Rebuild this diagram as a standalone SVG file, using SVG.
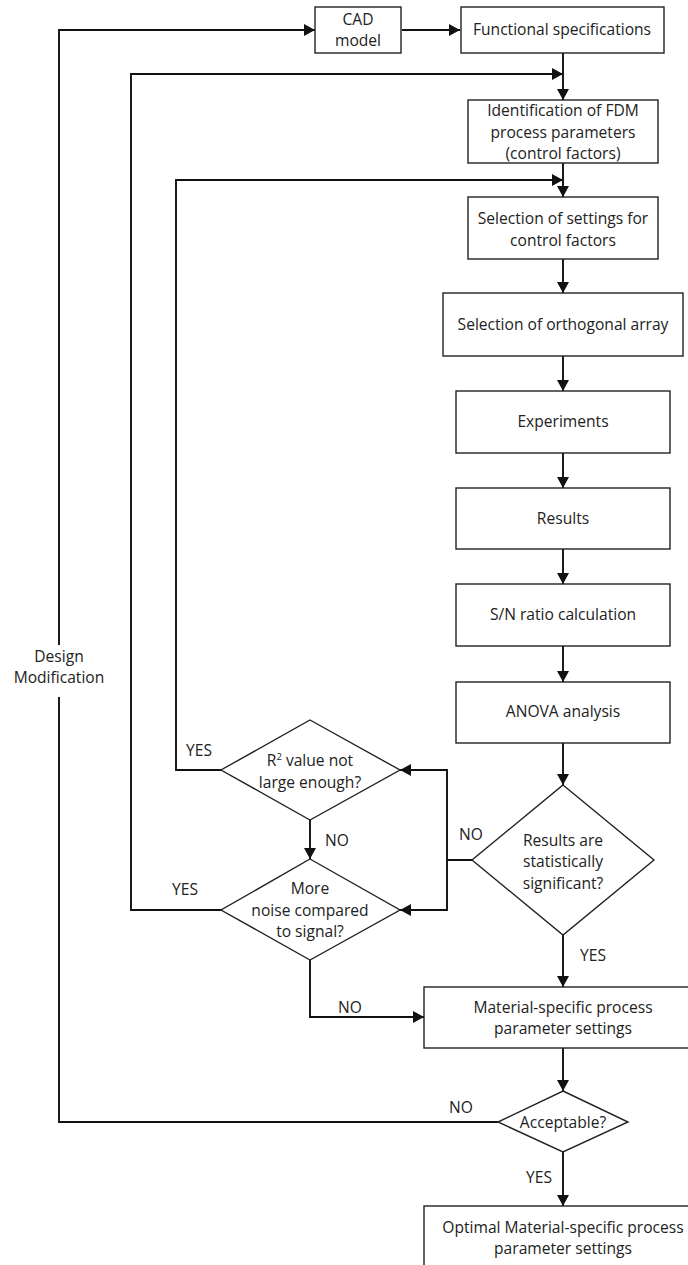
<svg xmlns="http://www.w3.org/2000/svg" width="688" height="1265" viewBox="0 0 688 1265">
<style>
text{font-family:"Open Sans",Lato,"Liberation Sans",sans-serif;font-size:15.6px;fill:#222;text-anchor:middle}
.box{fill:#fff;stroke:#222;stroke-width:1.4}
.c{fill:none;stroke:#111;stroke-width:1.9}
</style>
<defs>
<marker id="a" markerUnits="userSpaceOnUse" markerWidth="12" markerHeight="12" refX="11" refY="6" orient="auto">
<path d="M0,0 L11,6 L0,12 z" fill="#111"/>
</marker>
</defs>
<rect width="688" height="1265" fill="#fff"/>
<g id="connectors">
<path class="c" d="M402,30 H460" marker-end="url(#a)"/>
<path class="c" d="M563,53 V100" marker-end="url(#a)"/>
<path class="c" d="M221,910 H131 V74 H563" marker-end="url(#a)"/>
<path class="c" d="M563,163 V197" marker-end="url(#a)"/>
<path class="c" d="M221,770 H176 V180 H563" marker-end="url(#a)"/>
<path class="c" d="M563,259 V293" marker-end="url(#a)"/>
<path class="c" d="M563,356 V391" marker-end="url(#a)"/>
<path class="c" d="M563,453 V488" marker-end="url(#a)"/>
<path class="c" d="M563,549 V584" marker-end="url(#a)"/>
<path class="c" d="M563,646 V682" marker-end="url(#a)"/>
<path class="c" d="M563,743 V785" marker-end="url(#a)"/>
<path class="c" d="M472,860 H447 V770 H400" marker-end="url(#a)"/>
<path class="c" d="M447,860 V910 H400" marker-end="url(#a)"/>
<path class="c" d="M310,820 V859" marker-end="url(#a)"/>
<path class="c" d="M310,960 V1017 H424" marker-end="url(#a)"/>
<path class="c" d="M563,935 V987" marker-end="url(#a)"/>
<path class="c" d="M563,1048 V1091" marker-end="url(#a)"/>
<path class="c" d="M498,1122 H59 V697"/>
<path class="c" d="M59,645 V30 H315" marker-end="url(#a)"/>
<path class="c" d="M563,1152 V1206" marker-end="url(#a)"/>
<text x="59" y="662">Design</text>
<text x="59" y="683">Modification</text>
<text x="199" y="756">YES</text>
<text x="185" y="895">YES</text>
<text x="337" y="846">NO</text>
<text x="471" y="840">NO</text>
<text x="593" y="961">YES</text>
<text x="350" y="1013">NO</text>
<text x="461" y="1113">NO</text>
<text x="539" y="1183">YES</text>
</g>
<g id="cad"><rect class="box" x="315" y="7" width="86" height="46"/><text x="358" y="25">CAD</text><text x="358" y="46">model</text></g>
<g id="functional"><rect class="box" x="461" y="7" width="203" height="46"/><text x="562" y="35">Functional specifications</text></g>
<g id="identification"><rect class="box" x="468" y="100" width="190" height="63"/><text x="563" y="116">Identification of FDM</text><text x="563" y="138">process parameters</text><text x="563" y="159">(control factors)</text></g>
<g id="settings"><rect class="box" x="468" y="197" width="190" height="62"/><text x="563" y="224">Selection of settings for</text><text x="563" y="246">control factors</text></g>
<g id="orthogonal"><rect class="box" x="443" y="293" width="240" height="63"/><text x="563" y="330">Selection of orthogonal array</text></g>
<g id="experiments"><rect class="box" x="456" y="391" width="214" height="62"/><text x="563" y="427">Experiments</text></g>
<g id="results"><rect class="box" x="456" y="488" width="214" height="61"/><text x="563" y="524">Results</text></g>
<g id="sn"><rect class="box" x="456" y="584" width="214" height="62"/><text x="563" y="620">S/N ratio calculation</text></g>
<g id="anova"><rect class="box" x="456" y="682" width="214" height="61"/><text x="563" y="717">ANOVA analysis</text></g>
<g id="significant"><path class="box" d="M563,785 L654,860 L563,935 L472,860 Z"/><text x="563" y="846">Results are</text><text x="563" y="867">statistically</text><text x="563" y="889">significant?</text></g>
<g id="r2"><path class="box" d="M310,720 L400,770 L310,820 L221,770 Z"/><text x="310" y="766">R<tspan font-size="9.5" dy="-6">2</tspan><tspan dy="6"> value not</tspan></text><text x="310" y="788">large enough?</text></g>
<g id="noise"><path class="box" d="M310,859 L400,910 L310,960 L221,910 Z"/><text x="310" y="894">More</text><text x="310" y="916">noise compared</text><text x="310" y="937">to signal?</text></g>
<g id="material"><rect class="box" x="424" y="987" width="278" height="61"/><text x="563" y="1013">Material-specific process</text><text x="563" y="1034">parameter settings</text></g>
<g id="acceptable"><path class="box" d="M563,1091 L628,1122 L563,1152 L498,1122 Z"/><text x="563" y="1128">Acceptable?</text></g>
<g id="optimal"><rect class="box" x="424" y="1206" width="278" height="80"/><text x="563" y="1233">Optimal Material-specific process</text><text x="563" y="1254">parameter settings</text></g>
</svg>
